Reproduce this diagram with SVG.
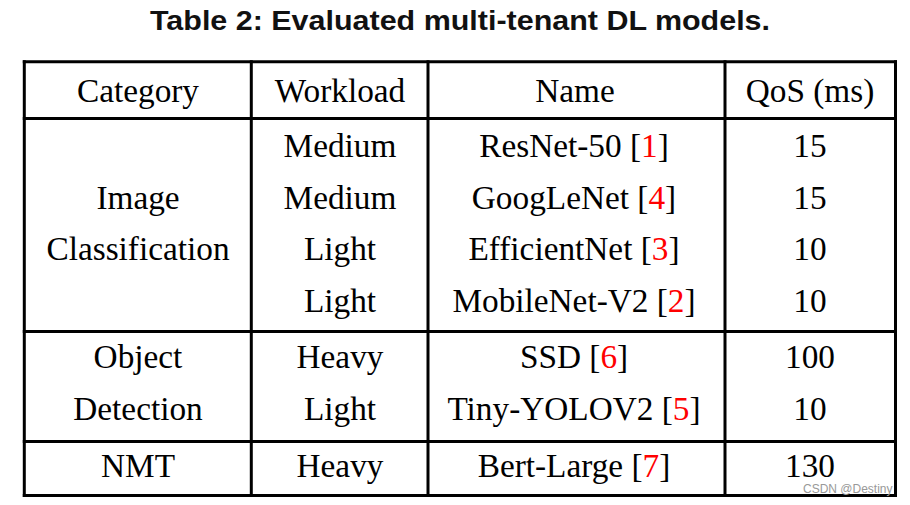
<svg xmlns="http://www.w3.org/2000/svg" width="910" height="505" viewBox="0 0 910 505">
<style>
.t{font-family:"Liberation Serif","Times New Roman",serif;font-size:33.3px;fill:#000;text-anchor:middle}
.r{fill:#ff0000}
.title{font-family:"Liberation Sans",Arial,sans-serif;font-weight:bold;font-size:27.5px;fill:#111}
.ln{stroke:#000;stroke-width:3}
.wm{font-family:"Liberation Sans",Arial,sans-serif;font-size:12px;fill:#999}
</style>
<rect width="910" height="505" fill="#fff"/>
<text class="title" x="150" y="29.5" textLength="620" lengthAdjust="spacingAndGlyphs">Table 2: Evaluated multi-tenant DL models.</text>
<g id="grid">
<line class="ln" x1="22.8" y1="61.7" x2="897" y2="61.7"/>
<line class="ln" x1="22.8" y1="118.5" x2="897" y2="118.5"/>
<line class="ln" x1="22.8" y1="331.5" x2="897" y2="331.5"/>
<line class="ln" x1="22.8" y1="441.5" x2="897" y2="441.5"/>
<line class="ln" x1="22.8" y1="495.5" x2="897" y2="495.5"/>
<line class="ln" x1="24.3" y1="60.2" x2="24.3" y2="497"/>
<line class="ln" x1="251.3" y1="60.2" x2="251.3" y2="497"/>
<line class="ln" x1="428" y1="60.2" x2="428" y2="497"/>
<line class="ln" x1="725" y1="60.2" x2="725" y2="497"/>
<line class="ln" x1="895.5" y1="60.2" x2="895.5" y2="497"/>
</g>
<g id="header">
<text class="t" x="138" y="102">Category</text>
<text class="t" x="340" y="102">Workload</text>
<text class="t" x="575" y="102">Name</text>
<text class="t" x="810" y="102">QoS (ms)</text>
</g>
<g id="image-classification">
<text class="t" x="138" y="208.5">Image</text>
<text class="t" x="138" y="260">Classification</text>
<text class="t" x="340" y="157">Medium</text>
<text class="t" x="340" y="208.5">Medium</text>
<text class="t" x="340" y="260">Light</text>
<text class="t" x="340" y="311.5">Light</text>
<text class="t" x="574" y="157">ResNet-50 [<tspan class="r">1</tspan>]</text>
<text class="t" x="574" y="208.5">GoogLeNet [<tspan class="r">4</tspan>]</text>
<text class="t" x="574" y="260">EfficientNet [<tspan class="r">3</tspan>]</text>
<text class="t" x="574" y="311.5">MobileNet-V2 [<tspan class="r">2</tspan>]</text>
<text class="t" x="810" y="157">15</text>
<text class="t" x="810" y="208.5">15</text>
<text class="t" x="810" y="260">10</text>
<text class="t" x="810" y="311.5">10</text>
</g>
<g id="object-detection">
<text class="t" x="138" y="368">Object</text>
<text class="t" x="138" y="420">Detection</text>
<text class="t" x="340" y="368">Heavy</text>
<text class="t" x="340" y="420">Light</text>
<text class="t" x="574" y="368">SSD [<tspan class="r">6</tspan>]</text>
<text class="t" x="574" y="420">Tiny-YOLOV2 [<tspan class="r">5</tspan>]</text>
<text class="t" x="810" y="368">100</text>
<text class="t" x="810" y="420">10</text>
</g>
<g id="nmt">
<text class="t" x="138" y="476.5">NMT</text>
<text class="t" x="340" y="476.5">Heavy</text>
<text class="t" x="574" y="476.5">Bert-Large [<tspan class="r">7</tspan>]</text>
<text class="t" x="810" y="476.5">130</text>
</g>
<text class="wm" x="803" y="493">CSDN @Destiny</text>
</svg>
